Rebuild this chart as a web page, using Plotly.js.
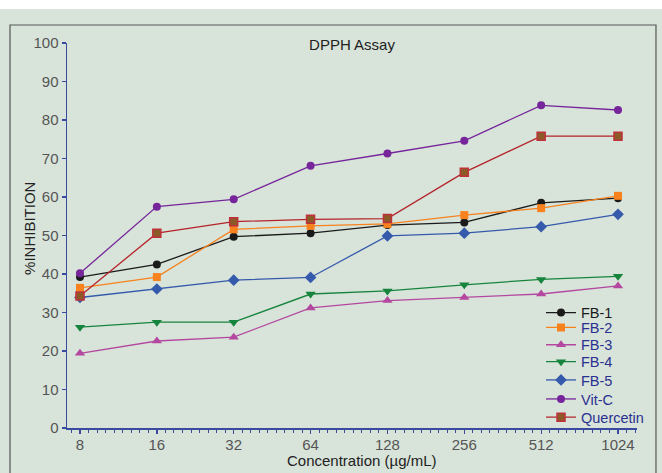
<!DOCTYPE html>
<html><head><meta charset="utf-8">
<script src="https://cdn.plot.ly/plotly-3.0.1.min.js"></script>
<style>html,body{margin:0;padding:0;background:#fff;}#chart{position:absolute;left:0;top:9px;width:662px;height:464px;}</style>
</head><body><div id="chart"></div>
<script>
const concentrations = [8, 16, 32, 64, 128, 256, 512, 1024];
const tickLabels = ["8", "16", "32", "64", "128", "256", "512", "1024"];
const fb1 = [39.2, 42.5, 49.7, 50.6, 52.7, 53.4, 58.5, 59.7];
const fb2 = [36.4, 39.2, 51.6, 52.5, 53.0, 55.3, 57.1, 60.3];
const fb3 = [19.4, 22.6, 23.6, 31.2, 33.1, 33.9, 34.8, 36.9];
const fb4 = [26.2, 27.5, 27.5, 34.8, 35.6, 37.2, 38.6, 39.4];
const fb5 = [33.9, 36.1, 38.4, 39.1, 49.9, 50.6, 52.3, 55.5];
const vitC = [40.2, 57.5, 59.4, 68.1, 71.3, 74.6, 83.8, 82.6];
const quercetin = [34.3, 50.6, 53.6, 54.2, 54.4, 66.4, 75.8, 75.8];
const seriesNames = ["FB-1", "FB-2", "FB-3", "FB-4", "FB-5", "Vit-C", "Quercetin"];

const styles = [
  {c:"#1a1a1a", s:"circle", f:"#1a1a1a", lc:"#1a1a1a", sz:8},
  {c:"#f7821e", s:"square", f:"#f7821e", lc:"#f7821e", sz:8},
  {c:"#b4479f", s:"triangle-up", f:"#b4479f", lc:"#b4479f", sz:9},
  {c:"#17843d", s:"triangle-down", f:"#17843d", lc:"#17843d", sz:9},
  {c:"#3559ab", s:"diamond", f:"#3559ab", lc:"#3559ab", sz:9},
  {c:"#76259a", s:"circle", f:"#76259a", lc:"#76259a", sz:8},
  {c:"#b5232b", s:"square", f:"#8c5a26", lc:"#c0303a", sz:8}
];
const legendY = [0.2995, 0.261, 0.216, 0.172, 0.1247, 0.0753, 0.0278];
const data = [fb1, fb2, fb3, fb4, fb5, vitC, quercetin];
const legendIds = data.map((_, i) => i === 0 ? "legend" : "legend" + (i + 1));
const traces = data.map((ys, i) => ({
  x: concentrations, y: ys, name: seriesNames[i], type: "scatter", mode: "lines+markers",
  legend: legendIds[i],
  line: {color: styles[i].c, width: 1.3},
  marker: {symbol: styles[i].s, size: styles[i].sz, color: styles[i].f, line: {color: styles[i].lc, width: i === 6 ? 1.5 : 0}}
}));

const bg = "#d8e4da";
const axisColor = "#3a4a9e";
const layout = {
  width: 662, height: 464,
  paper_bgcolor: bg, plot_bgcolor: bg,
  margin: {l: 67, r: 25, t: 34, b: 45},
  font: {family: "Liberation Sans, Arial, sans-serif"},
  title: {text: "DPPH Assay", font: {size: 15, color: "#222"}, x: 0.5, xanchor: "center", xref: "paper", yref: "paper", y: 0.995, yanchor: "middle"},
  showlegend: true,
  xaxis: {
    type: "log", range: [0.8522, 3.0847], tickvals: concentrations, ticktext: tickLabels,
    showgrid: false, zeroline: false, showline: true, linecolor: axisColor, linewidth: 1.5,
    ticks: "outside", ticklen: 4, tickcolor: axisColor, tickwidth: 1.3,
    tickfont: {size: 15, color: "#555"}, ticklabelstandoff: -2,
    minor: {ticks: "outside", ticklen: 3, tickcolor: axisColor, tickwidth: 1, dtick: Math.log10(2) / 9, tick0: Math.log10(8), showgrid: false}
  },
  yaxis: {
    range: [0, 100], dtick: 10, showgrid: false, zeroline: false, showline: true, linecolor: axisColor, linewidth: 1.5,
    ticks: "outside", ticklen: 4, tickcolor: axisColor, tickwidth: 1.3,
    tickfont: {size: 15, color: "#555"}
  },
  annotations: [
    {text: "Concentration (µg/mL)", xref: "paper", yref: "paper", x: 0.5175, y: -0.0857, xanchor: "center", yanchor: "middle", showarrow: false, font: {size: 15, color: "#222"}},
    {text: "%INHIBITION", xref: "paper", yref: "paper", x: -0.0649, y: 0.517, xanchor: "center", yanchor: "middle", textangle: -90, showarrow: false, font: {size: 15, color: "#222"}}
  ],
  shapes: [
    {type: "rect", xref: "paper", yref: "paper", x0: -0.1, x1: 1.0333, y0: -0.2, y1: 1.0468, line: {color: "#555", width: 1.2}, fillcolor: "rgba(0,0,0,0)", layer: "below"}
  ]
};
legendIds.forEach((id, i) => {
  layout[id] = {x: 0.8316, y: legendY[i], xanchor: "left", yanchor: "middle", bgcolor: "rgba(0,0,0,0)",
    borderwidth: 0, font: {size: 14.5, color: i === 0 ? "#1a1a1a" : "#2b3090"}, itemwidth: 30};
});
Plotly.newPlot("chart", traces, layout, {displayModeBar: false, staticPlot: true});
</script></body></html>
